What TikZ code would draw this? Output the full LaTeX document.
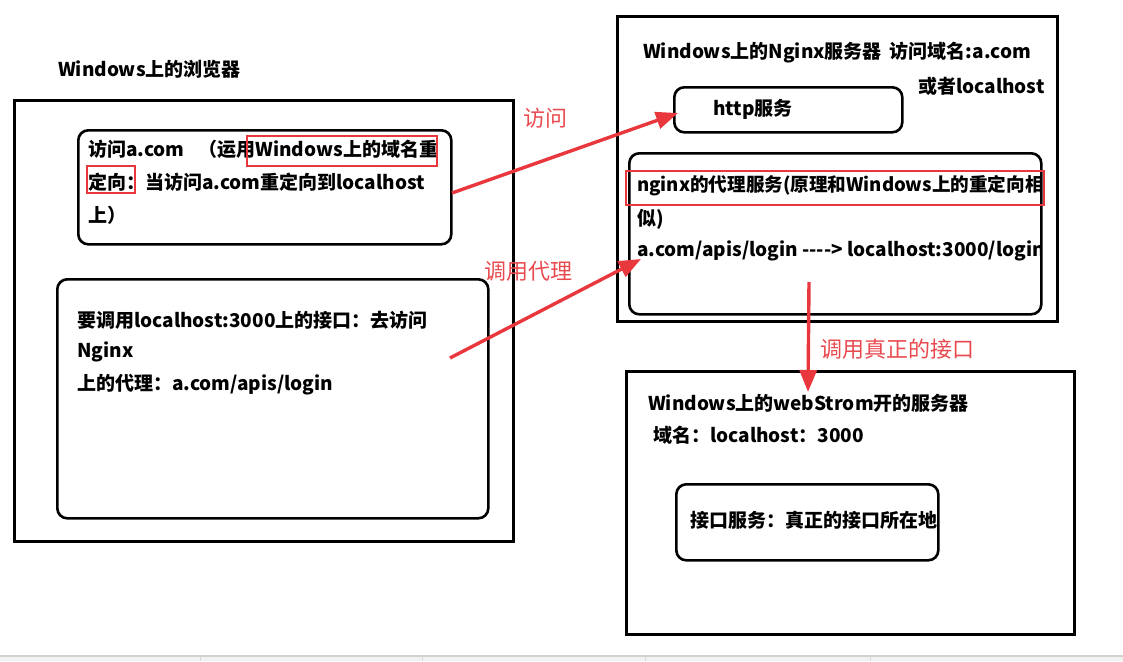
\documentclass[tikz,border=0pt]{standalone}
\usepackage{fontspec}
\setmainfont{Noto Sans CJK SC}
\usetikzlibrary{arrows.meta}
\definecolor{redline}{HTML}{E8383D}
\definecolor{redtext}{HTML}{E84A4F}
\tikzset{
  outerbox/.style={draw=black, line width=2.9pt, inner sep=0pt, anchor=north west},
  innerbox/.style={draw=black, line width=2.6pt, rounded corners=10pt, inner sep=0pt, anchor=north west},
  txt/.style={anchor=west, inner sep=0pt, font=\fontsize{19}{19}\selectfont\bfseries},
  redlabel/.style={anchor=west, inner sep=0pt, text=redtext, font=\fontsize{22}{22}\selectfont},
  redmark/.style={draw=redline, line width=2.6pt},
  redarrow/.style={draw=redline, line width=3.4pt, -{Triangle[length=22pt,width=17pt]}, fill=redline},
}
\begin{document}
\begin{tikzpicture}[x=1pt,y=-1pt]
\useasboundingbox (0,0) rectangle (1123,661);
% bottom status strip
\fill[gray!10] (0,656) rectangle (1123,661);
\draw[gray!35, line width=1.2pt] (0,656) -- (1123,656);
\foreach \sx in {200,422,645,870} \draw[gray!30, line width=0.6pt] (\sx,657) -- (\sx,661);

% ---------- browser ----------
\node[txt] (browsertitle) at (58,69) {Windows上的浏览器};
\node[outerbox, minimum width=499pt, minimum height=441pt] (browser) at (13,99) {};
\node[innerbox, minimum width=373pt, minimum height=114pt] (visit) at (77,129) {};
\node[txt] (v1) at (88,149) {访问a.com\hspace{14pt}（运用Windows上的域名重};
\node[txt] (v2) at (88,182) {定向：当访问a.com重定向到localhost};
\node[txt] (v3) at (88,215) {上）};
\draw[redmark] (247,136) rectangle (437,166);
\draw[redmark] (87,166) rectangle (135,193);
\node[innerbox, minimum width=431pt, minimum height=239pt] (call) at (56,278) {};
\node[txt] (c1) at (77,320) {要调用localhost:3000上的接口：去访问};
\node[txt] (c2) at (77,352) {Nginx};
\node[txt] (c3) at (77,385) {上的代理：a.com/apis/login};

% ---------- nginx ----------
\node[outerbox, minimum width=440pt, minimum height=305pt] (nginx) at (616,15) {};
\node[txt] (n1) at (643,53) {Windows上的Nginx服务器\hspace{8pt}访问域名:a.com};
\node[txt] (n2) at (918,86) {或者localhost};
\node[innerbox, minimum width=228pt, minimum height=45pt] (http) at (673,86) {};
\node[txt] (httptxt) at (713,109) {http服务};
\node[innerbox, minimum width=412pt, minimum height=161pt] (proxy) at (628,152) {};
\begin{scope}
  \clip (628,152) rectangle (1040,313);
  \node[txt, font=\fontsize{18.6}{19}\selectfont\bfseries] (p1) at (637,186) {nginx的代理服务(原理和Windows上的重定向相似)};
  \node[txt] (p3) at (637,251) {a.com/apis/login -{}-{}-{}-{}> localhost:3000/login};
\end{scope}
\node[txt] (p2) at (637,219) {似)};
\draw[redmark] (626,171) rectangle (1044,205);

% ---------- webstorm ----------
\node[outerbox, minimum width=448pt, minimum height=263pt] (ws) at (625,370) {};
\node[txt] (w1) at (648,403) {Windows上的webStrom开的服务器};
\node[txt] (w2) at (653,435) {域名：localhost：3000};
\node[innerbox, minimum width=262pt, minimum height=76pt] (api) at (675,483) {};
\node[txt] (apitxt) at (690,520) {接口服务：真正的接口所在地};

% ---------- red connectors ----------
\coordinate (a1s) at (452,193);
\coordinate (a1e) at (678,113);
\coordinate (a2s) at (450,358);
\coordinate (a2e) at (641,259);
\coordinate (a3s) at (809,282);
\coordinate (a3e) at (808,392);
\draw[redarrow] (a1s) -- (a1e);
\draw[redarrow] (a2s) -- (a2e);
\draw[redarrow] (a3s) -- (a3e);
\node[redlabel] (l1) at (523,118) {访问};
\node[redlabel] (l2) at (484,271) {调用代理};
\node[redlabel] (l3) at (820,349) {调用真正的接口};
\end{tikzpicture}
\end{document}
